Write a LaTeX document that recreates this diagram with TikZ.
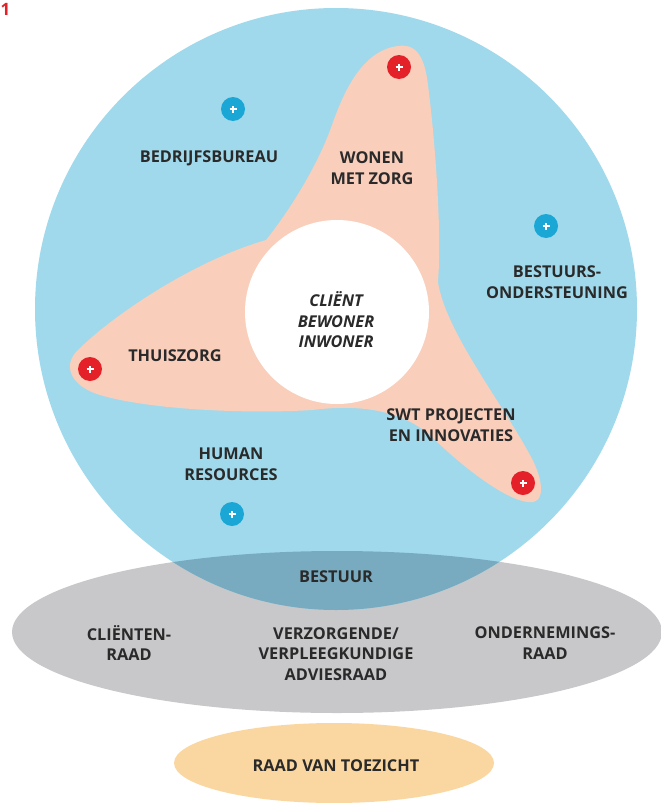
\documentclass[tikz,border=0pt]{standalone}
\usepackage{fontspec}
\setmainfont{Open Sans}
\definecolor{skyblue}{HTML}{A0D9EB}
\definecolor{peach}{HTML}{F9CEBB}
\definecolor{greyell}{HTML}{C8C8CA}
\definecolor{darkov}{HTML}{78AAC0}
\definecolor{sand}{HTML}{FAD7A1}
\definecolor{redplus}{HTML}{E42129}
\definecolor{blueplus}{HTML}{1AA7D6}
\definecolor{txt}{HTML}{2A2A2A}
\tikzset{
  lbl/.style={font=\bfseries\fontsize{16.3}{20.5}\selectfont, text=txt, align=center, inner sep=0pt},
  clientlbl/.style={font=\bfseries\itshape\fontsize{16.3}{20.5}\selectfont, text=txt, align=center, inner sep=0pt},
  plusdot/.style={circle, minimum size=24pt, inner sep=0pt, fill=#1,
    path picture={
      \draw[white, line width=2pt] ([xshift=-3.5pt]path picture bounding box.center) -- ([xshift=3.5pt]path picture bounding box.center);
      \draw[white, line width=2pt] ([yshift=-3.5pt]path picture bounding box.center) -- ([yshift=3.5pt]path picture bounding box.center);}},
}
\begin{document}
\begin{tikzpicture}[x=1pt,y=-1pt]
\useasboundingbox (0,0) rectangle (661,803);
% grey council ellipse
\fill[greyell] (337,632) ellipse [x radius=325pt, y radius=81pt];
% big blue circle
\fill[skyblue] (336,309) circle [radius=301pt];
% overlap
\begin{scope}
  \clip (336,309) circle [radius=301pt];
  \fill[darkov] (337,632) ellipse [x radius=325pt, y radius=81pt];
\end{scope}
% supervisory board ellipse
\fill[sand] (334,763) ellipse [x radius=160pt, y radius=40pt];
% petals
\fill[peach] (266,240)
  .. controls (290,210) and (318,165) .. (332,125)
  .. controls (346,85) and (365,50) .. (398,46)
  .. controls (418,43) and (425,60) .. (428,85)
  .. controls (435,140) and (442,230) .. (438,282)
  .. controls (445,330) and (500,400) .. (530,455)
  .. controls (545,482) and (545,505) .. (528,502)
  .. controls (505,500) and (460,465) .. (430,435)
  .. controls (400,410) and (360,404) .. (312,410)
  .. controls (250,414) and (150,410) .. (100,395)
  .. controls (70,386) and (62,365) .. (78,350)
  .. controls (110,318) and (190,262) .. (266,240) -- cycle;
% client circle
\node[circle, fill=white, minimum size=184pt, inner sep=0pt] (clientcircle) at (337,312) {};
\node[clientlbl] (client) at (336,320) {CLIËNT\\BEWONER\\INWONER};
% plus dots
\node[plusdot=redplus] (p1) at (399,67) {};
\node[plusdot=redplus] (p2) at (90,369) {};
\node[plusdot=redplus] (p3) at (523,483) {};
\node[plusdot=blueplus] (b1) at (233,109) {};
\node[plusdot=blueplus] (b2) at (546,226) {};
\node[plusdot=blueplus] (b3) at (232,514) {};
% labels
\node[lbl] (bedrijf) at (209,158) {BEDRIJFSBUREAU};
\node[lbl] (wonen) at (372,168) {WONEN\\MET ZORG};
\node[lbl] (bestuurs) at (557,282) {BESTUURS-\\ONDERSTEUNING};
\node[lbl] (thuis) at (175,356) {THUISZORG};
\node[lbl] (swt) at (451,425) {SWT PROJECTEN\\EN INNOVATIES};
\node[lbl] (hr) at (231,464) {HUMAN\\RESOURCES};
\node[lbl] (bestuur) at (336,577) {BESTUUR};
\node[lbl] (clraad) at (129,643) {CLIËNTEN-\\RAAD};
\node[lbl] (vvar) at (336,654) {VERZORGENDE/\\VERPLEEGKUNDIGE\\ADVIESRAAD};
\node[lbl] (or) at (545,643) {ONDERNEMINGS-\\RAAD};
\node[lbl] (rvt) at (336,766) {RAAD VAN TOEZICHT};
\node[font=\bfseries\fontsize{17}{17}\selectfont, text=redplus, inner sep=0pt, anchor=west] (num) at (0.5,9) {1};
\end{tikzpicture}
\end{document}
